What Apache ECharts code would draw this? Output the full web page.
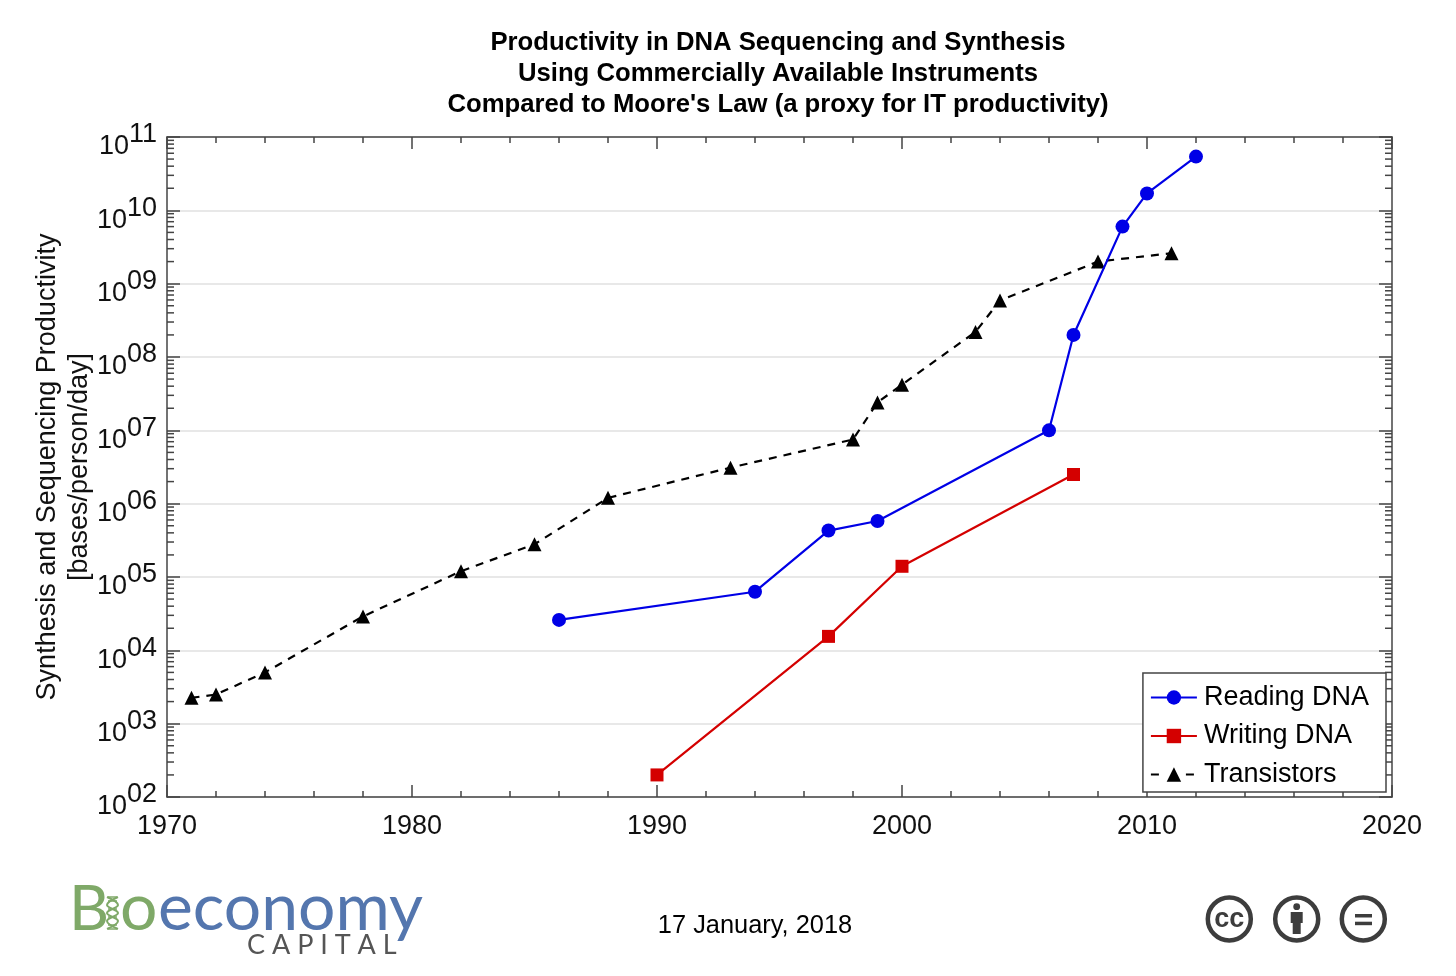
<!DOCTYPE html>
<html>
<head>
<meta charset="utf-8">
<style>html,body{margin:0;padding:0;background:#fff}#chart{width:1456px;height:976px}</style>
<script src="https://cdn.jsdelivr.net/npm/echarts@6/dist/echarts.min.js"></script>
</head>
<body>
<div id="chart"></div>
<script>
// values
var readingYears = [1986, 1994, 1997, 1999, 2006, 2007, 2009, 2010, 2012];
var readingValues = [2.6e4, 6.3e4, 4.3e5, 5.8e5, 1e7, 2e8, 6e9, 1.7e10, 5.4e10];
var writingYears = [1990, 1997, 2000, 2007];
var writingValues = [200, 1.55e4, 1.4e5, 2.5e6];
var transistorYears = [1971, 1972, 1974, 1978, 1982, 1985, 1988, 1993, 1998, 1999, 2000, 2003, 2004, 2008, 2011];
var transistorValues = [2250, 2500, 5000, 2.9e4, 1.2e5, 2.8e5, 1.2e6, 3.1e6, 7.5e6, 2.4e7, 4.2e7, 2.2e8, 5.9e8, 2e9, 2.6e9];
var decades = [1e2, 1e3, 1e4, 1e5, 1e6, 1e7, 1e8, 1e9, 1e10];
var minorFactors = [2, 3, 4, 5, 6, 7, 8, 9];
var titleLines = ['Productivity in DNA Sequencing and Synthesis', 'Using Commercially Available Instruments', "Compared to Moore's Law (a proxy for IT productivity)"];

function pairs(xs, ys) {
	return xs.map(function (x, i) { return [x, ys[i]]; });
}
var minorValues = [];
decades.forEach(function (d) {
	minorFactors.forEach(function (f) { minorValues.push(d * f); });
});

var FONT = '"Liberation Sans", Arial, sans-serif';
var AXIS = '#444';
var GREEN = '#7fa968';
var ICON = '#3d3d3d';
var myChart = echarts.init(document.getElementById('chart'));

function pow10Label(v) {
	var e = Math.round(Math.log(v) / Math.LN10);
	return '{b|10}{s|' + (e < 10 ? '0' + e : e) + '}';
}

// dna helix that stands in for the "i" of the logo
function helix() {
	var left = [[107, 897], [118, 905], [107, 913], [118, 921], [107, 929]];
	var right = [[118, 897], [107, 905], [118, 913], [107, 921], [118, 929]];
	var st = { stroke: GREEN, lineWidth: 2, fill: null };
	var out = [
		{ type: 'polyline', shape: { points: left, smooth: 0.4 }, style: st },
		{ type: 'polyline', shape: { points: right, smooth: 0.4 }, style: st }
	];
	[897, 901, 909, 917, 925, 929].forEach(function (y) {
		out.push({ type: 'line', shape: { x1: 108, y1: y, x2: 117, y2: y }, style: { stroke: GREEN, lineWidth: 1.5 } });
	});
	return out;
}

var option = {
	backgroundColor: '#fff',
	animation: false,
	title: {
		text: titleLines.join('\n'),
		left: 773,
		top: 22,
		textAlign: 'center',
		textStyle: { color: '#000', fontFamily: FONT, fontWeight: 'bold', fontSize: 25.7, lineHeight: 31 }
	},
	grid: { left: 167, right: 64, top: 137, bottom: 179 },
	legend: {
		orient: 'vertical',
		right: 70,
		top: 673,
		padding: [11, 17, 4, 7],
		itemGap: 11.5,
		itemWidth: 46,
		itemHeight: 18,
		backgroundColor: '#fff',
		borderColor: AXIS,
		borderWidth: 1.5,
		borderRadius: 0,
		textStyle: { color: '#000', fontFamily: FONT, fontSize: 27, padding: [0, 0, 0, 2] },
		data: ['Reading DNA', 'Writing DNA', { name: 'Transistors', lineStyle: { type: [8, 27, 8, 40] } }]
	},
	xAxis: [{
		type: 'value',
		min: 1970,
		max: 2020,
		interval: 10,
		axisLine: { lineStyle: { color: AXIS, width: 1.5 } },
		axisTick: { inside: true, length: 12, lineStyle: { color: AXIS, width: 1.5 } },
		minorTick: { show: true, splitNumber: 5, length: 6, lineStyle: { color: AXIS, width: 1.5 } },
		splitLine: { show: false },
		axisLabel: { color: '#111', fontFamily: FONT, fontSize: 27, margin: 16, formatter: function (v) { return String(v); } }
	}, {
		type: 'value',
		position: 'top',
		min: 1970,
		max: 2020,
		interval: 10,
		axisLine: { lineStyle: { color: AXIS, width: 1.5 } },
		axisTick: { inside: true, length: 12, lineStyle: { color: AXIS, width: 1.5 } },
		minorTick: { show: true, splitNumber: 5, length: 6, lineStyle: { color: AXIS, width: 1.5 } },
		splitLine: { show: false },
		axisLabel: { show: false }
	}],
	yAxis: [{
		type: 'log',
		logBase: 10,
		min: 1e2,
		max: 1e11,
		name: 'Synthesis and Sequencing Productivity\n[bases/person/day]',
		nameLocation: 'middle',
		nameRotate: 90,
		nameGap: 71,
		nameMoveOverlap: false,
		nameTextStyle: { color: '#111', fontFamily: FONT, fontSize: 27, lineHeight: 32 },
		axisLine: { show: true, lineStyle: { color: AXIS, width: 1.5 } },
		axisTick: { inside: true, length: 13, lineStyle: { color: AXIS, width: 1.5 } },
		splitLine: { show: true, lineStyle: { color: '#e0e0e0', width: 1.5 } },
		axisLabel: {
			margin: 10,
			padding: [20, 0, 0, 0],
			formatter: pow10Label,
			rich: {
				b: { color: '#111', fontFamily: FONT, fontSize: 27, verticalAlign: 'bottom', lineHeight: 27 },
				s: { color: '#111', fontFamily: FONT, fontSize: 27, verticalAlign: 'bottom', lineHeight: 27, padding: [0, 0, 12, 0] }
			}
		}
	}, {
		type: 'log',
		logBase: 10,
		position: 'right',
		min: 1e2,
		max: 1e11,
		axisLine: { show: true, lineStyle: { color: AXIS, width: 1.5 } },
		axisTick: { inside: true, length: 13, lineStyle: { color: AXIS, width: 1.5 } },
		splitLine: { show: false },
		axisLabel: { show: false }
	}],
	series: [{
		// 2-9 per decade ticks, both sides of the plot
		type: 'custom',
		silent: true,
		z: 1,
		data: minorValues,
		encode: { y: 0 },
		renderItem: function (params, api) {
			var y = api.coord([1970, api.value(0)])[1];
			var r = params.coordSys;
			var st = { stroke: AXIS, lineWidth: 1.5 };
			return {
				type: 'group',
				children: [
					{ type: 'line', shape: { x1: r.x, y1: y, x2: r.x + 7, y2: y }, style: st },
					{ type: 'line', shape: { x1: r.x + r.width, y1: y, x2: r.x + r.width - 7, y2: y }, style: st }
				]
			};
		}
	}, {
		name: 'Transistors',
		type: 'line',
		data: pairs(transistorYears, transistorValues),
		symbol: 'triangle',
		symbolSize: 14,
		z: 3,
		lineStyle: { color: '#000', width: 2.2, type: [8, 7] },
		itemStyle: { color: '#000' }
	}, {
		name: 'Reading DNA',
		type: 'line',
		data: pairs(readingYears, readingValues),
		symbol: 'circle',
		symbolSize: 14,
		z: 4,
		lineStyle: { color: '#0000e6', width: 2.2 },
		itemStyle: { color: '#0000e6' }
	}, {
		name: 'Writing DNA',
		type: 'line',
		data: pairs(writingYears, writingValues),
		symbol: 'rect',
		symbolSize: 13,
		z: 4,
		lineStyle: { color: '#d40000', width: 2.2 },
		itemStyle: { color: '#d40000' }
	}],
	graphic: [
		{ type: 'text', x: 755, y: 926, style: { text: '17 January, 2018', fill: '#000', font: '25.4px ' + FONT, align: 'center', verticalAlign: 'middle' } },
		// logo
		{ type: 'text', x: 69, y: 910, style: { text: 'B', fill: GREEN, font: '62px Lato, ' + FONT, verticalAlign: 'middle' } },
		{ type: 'text', x: 120, y: 909, style: { text: 'o', fill: GREEN, font: '66px Lato, ' + FONT, verticalAlign: 'middle' } },
		{ type: 'text', x: 158, y: 909, style: { text: 'economy', fill: '#5476ae', font: '66px Lato, ' + FONT, verticalAlign: 'middle' } },
		{ type: 'text', x: 247, y: 945, style: { text: 'C A P I T A L', fill: '#555', font: '27px Lato, ' + FONT, verticalAlign: 'middle' } }
	].concat(helix(), [
		// licence icons
		{ type: 'circle', shape: { cx: 1229.3, cy: 919, r: 21.5 }, style: { fill: '#fff', stroke: ICON, lineWidth: 4.5 } },
		{ type: 'text', x: 1229.3, y: 920, style: { text: 'cc', fill: ICON, font: 'bold 27px ' + FONT, align: 'center', verticalAlign: 'middle' } },
		{ type: 'circle', shape: { cx: 1296.7, cy: 919, r: 21.5 }, style: { fill: '#fff', stroke: ICON, lineWidth: 4.5 } },
		{ type: 'circle', shape: { cx: 1296.7, cy: 906.7, r: 3.4 }, style: { fill: ICON } },
		{ type: 'rect', shape: { x: 1290.7, y: 912, width: 12, height: 11 }, style: { fill: ICON } },
		{ type: 'rect', shape: { x: 1292.7, y: 923, width: 8, height: 11 }, style: { fill: ICON } },
		{ type: 'circle', shape: { cx: 1363.3, cy: 919, r: 21.5 }, style: { fill: '#fff', stroke: ICON, lineWidth: 4.5 } },
		{ type: 'rect', shape: { x: 1355, y: 914, width: 17, height: 3.5 }, style: { fill: ICON } },
		{ type: 'rect', shape: { x: 1355, y: 921.7, width: 17, height: 3.5 }, style: { fill: ICON } }
	])
};
myChart.setOption(option);
</script>
</body>
</html>
